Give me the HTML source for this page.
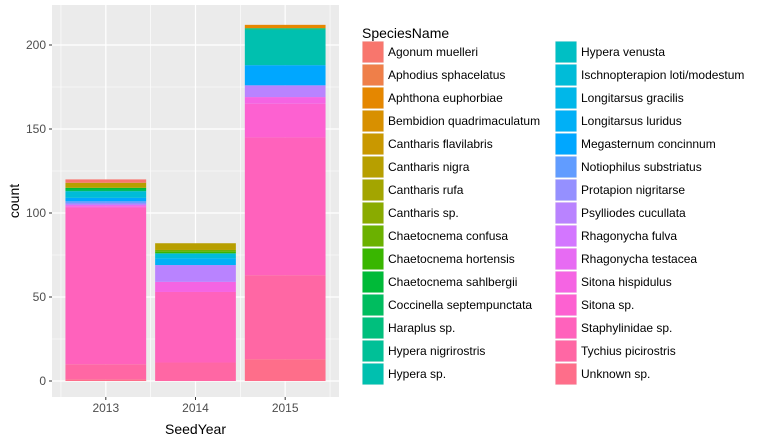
<!DOCTYPE html>
<html><head><meta charset="utf-8"><style>
body{margin:0;background:#fff;font-family:"Liberation Sans",Arial,sans-serif}
svg text{font-family:"Liberation Sans",Arial,sans-serif}
</style></head><body>
<svg id="c" width="763" height="442"></svg>
<script>
const species=["Agonum muelleri","Aphodius sphacelatus","Aphthona euphorbiae","Bembidion quadrimaculatum","Cantharis flavilabris","Cantharis nigra","Cantharis rufa","Cantharis sp.","Chaetocnema confusa","Chaetocnema hortensis","Chaetocnema sahlbergii","Coccinella septempunctata","Haraplus sp.","Hypera nigrirostris","Hypera sp.","Hypera venusta","Ischnopterapion loti/modestum","Longitarsus gracilis","Longitarsus luridus","Megasternum concinnum","Notiophilus substriatus","Protapion nigritarse","Psylliodes cucullata","Rhagonycha fulva","Rhagonycha testacea","Sitona hispidulus","Sitona sp.","Staphylinidae sp.","Tychius picirostris","Unknown sp."];
const years=["2013","2014","2015"];
const counts2013=[2,0,0,0,0,3,0,0,0,0,1,1,0,0,0,0,4,0,0,2,1,1,0,0,1,0,1,93,9,1];
const counts2014=[0,0,0,0,0,4,0,0,1,1,0,0,0,0,0,0,3,0,4,0,0,0,10,0,0,6,0,42,11,0];
const counts2015=[0,0,2,0,0,0,0,0,0,0,0,0,1,0,21,0,0,0,0,12,0,0,7,0,0,4,20,82,50,13];
const yTicks=[0,50,100,150,200];
const series=[counts2013,counts2014,counts2015];

function hcl(h,c,l){const hr=h*Math.PI/180,u=c*Math.cos(hr),v=c*Math.sin(hr);
const Xn=95.047,Yn=100,Zn=108.883,un=4*Xn/(Xn+15*Yn+3*Zn),vn=9*Yn/(Xn+15*Yn+3*Zn);
const Y=l>8?Yn*Math.pow((l+16)/116,3):Yn*l/903.3;const up=u/(13*l)+un,vp=v/(13*l)+vn;
const X=9*Y*up/(4*vp),Z=-X/3-5*Y+3*Y/vp;const x=X/100,y=Y/100,z=Z/100;
let r=3.2404542*x-1.5371385*y-0.4985314*z,g=-0.9692660*x+1.8760108*y+0.0415560*z,b=0.0556434*x-0.2040259*y+1.0572252*z;
const f=t=>{t=t<=0.0031308?12.92*t:1.055*Math.pow(t,1/2.4)-0.055;return Math.round(Math.max(0,Math.min(1,t))*255)};
return `rgb(${f(r)},${f(g)},${f(b)})`;}
const N=species.length;const cols=[];
for(let i=0;i<N;i++)cols[i]=hcl(15+360*i/N,100,65);

const svg=document.getElementById('c');const NS="http://www.w3.org/2000/svg";
function el(t,a,p){const e=document.createElementNS(NS,t);for(const k in a)e.setAttribute(k,a[k]);(p||svg).appendChild(e);return e;}
const P={l:52,r:339,t:5,b:397};
const y0=381,ppu=1.68;
const ys=v=>y0-v*ppu;
const band=(P.r-P.l)/3.2;
const xs=i=>P.l+(i+1-0.4)*band;
const panel=el('rect',{x:P.l,y:P.t,width:P.r-P.l,height:P.b-P.t,fill:'#ebebeb'});


for(let i=0;i<yTicks.length-1;i++){const m=(yTicks[i]+yTicks[i+1])/2;
 el('line',{x1:P.l,x2:P.r,y1:ys(m),y2:ys(m),stroke:'#fff','stroke-width':0.6});}
el('line',{x1:P.l,x2:P.r,y1:ys(225),y2:ys(225),stroke:'#fff','stroke-width':0.6});
yTicks.forEach(t=>{const g=el('line',{x1:P.l,x2:P.r,y1:ys(t),y2:ys(t),stroke:'#fff','stroke-width':1.2});
 
 el('line',{x1:P.l-3,x2:P.l,y1:ys(t),y2:ys(t),stroke:'#333'});
 const tx=el('text',{x:P.l-6,y:ys(t)+4,'text-anchor':'end','font-size':12,fill:'#4d4d4d'});tx.textContent=t;
 });
for(let i=0;i<4;i++){const x=xs(i)-band/2;el('line',{x1:x,x2:x,y1:P.t,y2:P.b,stroke:'#fff','stroke-width':0.6});}
years.forEach((yr,i)=>{el('line',{x1:xs(i),x2:xs(i),y1:P.t,y2:P.b,stroke:'#fff','stroke-width':1.2});
 el('line',{x1:xs(i),x2:xs(i),y1:P.b,y2:P.b+3,stroke:'#333'});
 const tx=el('text',{x:xs(i),y:P.b+15,'text-anchor':'middle','font-size':12,fill:'#4d4d4d'});tx.textContent=yr;
 
 const vals=series[i];let cum=0;const w=band*0.9;
 for(let s=N-1;s>=0;s--){const v=vals[s];if(!v)continue;
  const r=el('rect',{x:xs(i)-w/2,y:ys(cum+v),width:w,height:v*ppu,fill:cols[s]});
  
  cum+=v;}
});
const xt=el('text',{x:(P.l+P.r)/2,y:434,'text-anchor':'middle','font-size':14,fill:'#000'});xt.textContent='SeedYear';

const yt=el('text',{x:0,y:0,'text-anchor':'middle','font-size':14,fill:'#000',transform:`translate(19,${(P.t+P.b)/2}) rotate(-90)`});yt.textContent='count';

const lt=el('text',{x:362,y:38,'font-size':14,fill:'#000'});lt.textContent='SpeciesName';

species.forEach((s,i)=>{const c=i<15?0:1,r=i<15?i:i-15;const x=c?555:362,y=41+r*23;
 const g=el('g',{});
 el('rect',{x:x,y:y,width:22,height:22,fill:'#f2f2f2'},g);
 el('rect',{x:x+0.5,y:y+0.5,width:21,height:21,fill:cols[i]},g);
 const t=el('text',{x:x+26,y:y+15,'font-size':12,fill:'#000'},g);t.textContent=s;});
</script></body></html>
